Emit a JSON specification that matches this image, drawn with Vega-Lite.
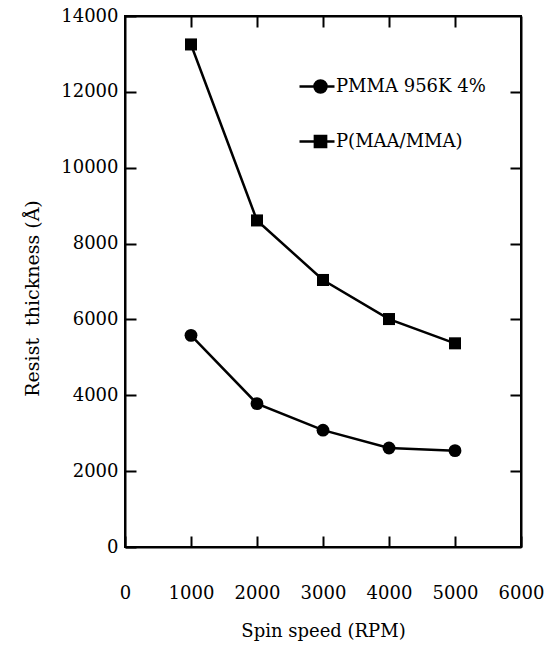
{
  "$schema": "https://vega.github.io/schema/vega-lite/v6.json",
  "width": 396,
  "height": 531,
  "autosize": "none",
  "padding": {"left": 125, "top": 16, "right": 34, "bottom": 100},
  "background": "white",
  "config": {
    "view": {"stroke": "black", "strokeWidth": 2},
    "font": "DejaVu Serif",
    "axis": {
      "grid": false,
      "domainColor": "black",
      "domainWidth": 2,
      "tickColor": "black",
      "tickWidth": 2,
      "tickSize": -11,
      "labelFont": "DejaVu Serif",
      "labelFontSize": 18,
      "labelColor": "black",
      "titleFont": "DejaVu Serif",
      "titleFontSize": 18,
      "titleFontWeight": "normal",
      "titleColor": "black"
    },
    "legend": {"labelFont": "DejaVu Serif", "labelFontSize": 18, "labelColor": "black"}
  },
  "data": {
    "values": [
      {"speed": 1000, "thickness": 5580, "series": "PMMA 956K 4%"},
      {"speed": 2000, "thickness": 3780, "series": "PMMA 956K 4%"},
      {"speed": 3000, "thickness": 3080, "series": "PMMA 956K 4%"},
      {"speed": 4000, "thickness": 2610, "series": "PMMA 956K 4%"},
      {"speed": 5000, "thickness": 2540, "series": "PMMA 956K 4%"},
      {"speed": 1000, "thickness": 13250, "series": "P(MAA/MMA)"},
      {"speed": 2000, "thickness": 8610, "series": "P(MAA/MMA)"},
      {"speed": 3000, "thickness": 7040, "series": "P(MAA/MMA)"},
      {"speed": 4000, "thickness": 6010, "series": "P(MAA/MMA)"},
      {"speed": 5000, "thickness": 5370, "series": "P(MAA/MMA)"}
    ]
  },
  "layer": [
    {
      "mark": {"type": "line", "color": "black", "strokeWidth": 2.5},
      "encoding": {
        "x": {
          "field": "speed", "type": "quantitative",
          "scale": {"domain": [0, 6000], "nice": false},
          "axis": {"orient": "bottom", "values": [0, 1000, 2000, 3000, 4000, 5000, 6000], "format": "d", "labelPadding": 48, "title": "Spin speed (RPM)", "titlePadding": 20, "labelFlush": false}
        },
        "y": {
          "field": "thickness", "type": "quantitative",
          "scale": {"domain": [0, 14000], "nice": false},
          "axis": {"orient": "left", "values": [0, 2000, 4000, 6000, 8000, 10000, 12000, 14000], "format": "d", "labelPadding": 18, "title": "Resist\u00a0\u00a0thickness\u00a0(Å)", "titlePadding": 18, "titleFontSize": 19, "titleY": 282, "labelFlush": false}
        },
        "detail": {"field": "series"}
      }
    },
    {
      "transform": [{"filter": "datum.series == 'PMMA 956K 4%'"}],
      "mark": {"type": "point", "filled": true, "shape": "circle", "size": 165, "opacity": 1},
      "encoding": {
        "x": {
          "field": "speed", "type": "quantitative",
          "axis": {"orient": "top", "values": [1000, 2000, 3000, 4000, 5000], "labels": false, "title": null}
        },
        "y": {
          "field": "thickness", "type": "quantitative",
          "axis": {"orient": "right", "values": [2000, 4000, 6000, 8000, 10000, 12000], "labels": false, "title": null}
        },
        "color": {
          "field": "series", "type": "nominal",
          "scale": {"range": ["black"]},
          "legend": {
            "title": null,
            "orient": "none",
            "legendX": 180,
            "legendY": 55,
            "symbolType": "M-1.5,0L-0.43,0M0.43,0L1,0M-0.43,0A0.43,0.43,0,1,0,0.43,0A0.43,0.43,0,1,0,-0.43,0Z",
            "symbolSize": 784,
            "symbolFillColor": "black",
            "symbolStrokeColor": "black",
            "symbolStrokeWidth": 2.5,
            "symbolOpacity": 1,
            "labelOffset": 0
          }
        }
      }
    },
    {
      "transform": [{"filter": "datum.series == 'P(MAA/MMA)'"}],
      "mark": {"type": "point", "filled": true, "shape": "square", "size": 145, "opacity": 1},
      "encoding": {
        "x": {"field": "speed", "type": "quantitative", "axis": null},
        "y": {"field": "thickness", "type": "quantitative", "axis": null},
        "color": {
          "field": "series", "type": "nominal",
          "scale": {"range": ["black"]},
          "legend": {
            "title": null,
            "orient": "none",
            "legendX": 180,
            "legendY": 110,
            "symbolType": "M-1.5,0L-0.4,0M0.4,0L1,0M-0.4,-0.4L0.4,-0.4L0.4,0.4L-0.4,0.4Z",
            "symbolSize": 784,
            "symbolFillColor": "black",
            "symbolStrokeColor": "black",
            "symbolStrokeWidth": 2.5,
            "symbolOpacity": 1,
            "labelOffset": 0
          }
        }
      }
    }
  ],
  "resolve": {"axis": {"x": "independent", "y": "independent"}, "scale": {"color": "independent"}}
}
